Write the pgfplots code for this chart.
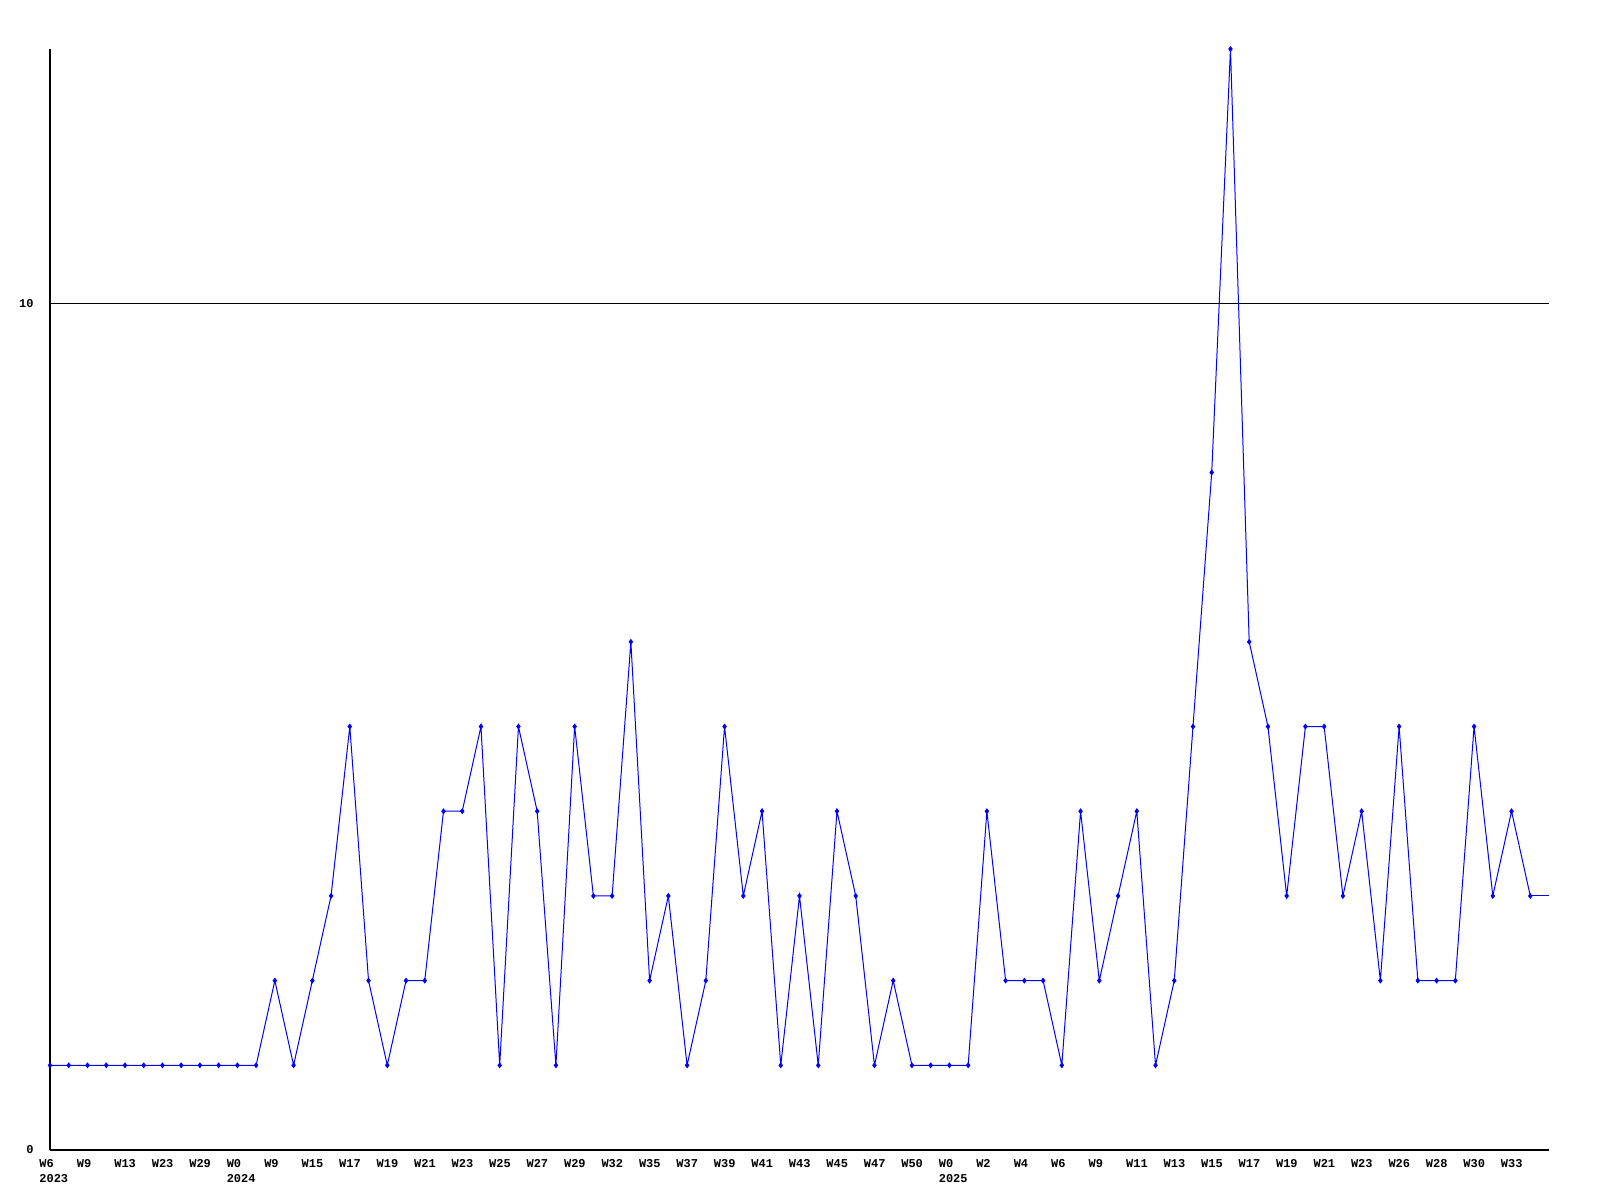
\documentclass[border=0pt]{standalone}
\usepackage{fontspec}
\setmonofont{Liberation Mono}
\usepackage{pgfplots}
\pgfplotsset{compat=1.18}
\begin{document}
\begin{tikzpicture}
\useasboundingbox (-25pt,-25pt) rectangle (775pt,575pt);
\begin{axis}[
  at={(0,0)}, anchor=south west,
  scale only axis, width=749.5pt, height=550.5pt,
  xmin=0, xmax=80, ymin=0, ymax=13,
  axis lines*=left,
  axis line style={black, line width=0.6pt},
  clip=false,
  major tick length=0pt,
  ytick={0,10}, yticklabels={0,10},
  ymajorgrids, grid style={black, line width=0.5pt},
  xtick={0,2,...,78},
  xticklabels={{W6\\2023},W9,W13,W23,W29,{W0\\2024},W9,W15,W17,W19,W21,W23,W25,W27,W29,W32,W35,W37,W39,W41,W43,W45,W47,W50,{W0\\2025},W2,W4,W6,W9,W11,W13,W15,W17,W19,W21,W23,W26,W28,W30,W33},
  xticklabel style={font=\ttfamily\bfseries\fontsize{6}{7.5}\selectfont, align=left, anchor=north west, inner sep=0pt, xshift=-5.5pt, yshift=-4.5pt},
  yticklabel style={font=\ttfamily\bfseries\fontsize{6}{7.5}\selectfont, anchor=east, inner sep=0pt, xshift=-8pt},
]
\addplot[color={rgb,255:red,0;green,0;blue,255}, line width=0.5pt, mark=diamond*, mark size=1.1pt, mark options={solid}] coordinates {
(0,1)(1,1)(2,1)(3,1)(4,1)(5,1)(6,1)(7,1)(8,1)(9,1)(10,1)(11,1)
(12,2)(13,1)(14,2)(15,3)(16,5)(17,2)(18,1)(19,2)(20,2)(21,4)
(22,4)(23,5)(24,1)(25,5)(26,4)(27,1)(28,5)(29,3)(30,3)(31,6)
(32,2)(33,3)(34,1)(35,2)(36,5)(37,3)(38,4)(39,1)(40,3)(41,1)
(42,4)(43,3)(44,1)(45,2)(46,1)(47,1)(48,1)(49,1)(50,4)(51,2)
(52,2)(53,2)(54,1)(55,4)(56,2)(57,3)(58,4)(59,1)(60,2)(61,5)
(62,8)(63,13)(64,6)(65,5)(66,3)(67,5)(68,5)(69,3)(70,4)(71,2)
(72,5)(73,2)(74,2)(75,2)(76,5)(77,3)(78,4)(79,3)
};
\addplot[color={rgb,255:red,0;green,0;blue,255}, line width=0.5pt, no marks] coordinates {(79,3)(80,3)};
\end{axis}
\end{tikzpicture}
\end{document}
